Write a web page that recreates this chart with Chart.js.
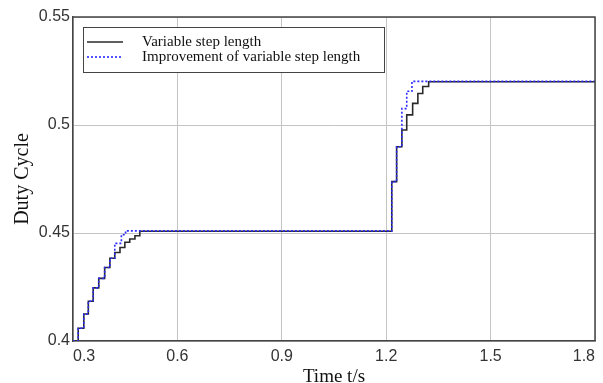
<!DOCTYPE html>
<html>
<head>
<meta charset="utf-8">
<script src="https://cdn.jsdelivr.net/npm/chart.js@4"></script>
<style>
  html, body { margin: 0; background: #fff; }
  canvas { display: block; }
</style>
</head>
<body>
<canvas id="duty" width="603" height="383"></canvas>
<script>
/* Duty cycle step response: variable step vs improved variable step. */

const seriesNames = ["Variable step length", "Improvement of variable step length"];
const xTicks = [0.3, 0.6, 0.9, 1.2, 1.5, 1.8];
const yTicks = [0.4, 0.45, 0.5, 0.55];

// variable step length (black)
const timeVar = [0.3, 0.315, 0.331, 0.344, 0.358, 0.374, 0.391, 0.406, 0.420, 0.435, 0.449, 0.463, 0.478, 0.492,
  1.216, 1.230, 1.245, 1.259, 1.276, 1.291, 1.305, 1.322, 1.8];
const dutyVar = [0.400, 0.4059, 0.4125, 0.4184, 0.4246, 0.4290, 0.4340, 0.4383, 0.4410, 0.4433, 0.4457, 0.4472, 0.4487, 0.4508,
  0.4738, 0.4899, 0.4977, 0.5047, 0.5100, 0.5146, 0.5178, 0.5200, 0.5200];

// improved variable step length (blue dotted)
const timeImp = [0.3, 0.315, 0.331, 0.344, 0.358, 0.374, 0.391, 0.406, 0.420, 0.439, 0.451,
  1.216, 1.230, 1.245, 1.259, 1.274, 1.8];
const dutyImp = [0.400, 0.4059, 0.4125, 0.4184, 0.4246, 0.4290, 0.4340, 0.4383, 0.4452, 0.4492, 0.4510,
  0.4738, 0.4899, 0.5076, 0.5156, 0.5202, 0.5202];

const toPoints = (xs, ys) => xs.map((x, i) => ({ x, y: ys[i] }));

const SANS = '"Liberation Sans", Arial, sans-serif';
const SERIF = '"Liberation Serif", "Times New Roman", serif';

/* top/right edges of the axes box */
const frame = {
  id: "frame",
  afterDatasetsDraw(chart) {
    const { ctx, chartArea: a } = chart;
    ctx.save();
    ctx.strokeStyle = "#444";
    ctx.lineWidth = 1.5;
    ctx.beginPath();
    ctx.moveTo(a.left, a.top);
    ctx.lineTo(a.right, a.top);
    ctx.lineTo(a.right, a.bottom);
    ctx.stroke();
    ctx.restore();
  },
};

/* boxed legend in the upper-left corner of the plot */
const boxLegend = {
  id: "boxLegend",
  afterDraw(chart) {
    const { ctx, chartArea: a } = chart;
    const x = a.left + 10, y = a.top + 10, w = 301, h = 45;
    ctx.save();
    ctx.fillStyle = "#fff";
    ctx.fillRect(x, y, w, h);
    ctx.strokeStyle = "#444";
    ctx.lineWidth = 1;
    ctx.strokeRect(x + 0.5, y + 0.5, w, h);
    ctx.font = "15px " + SERIF;
    ctx.textBaseline = "middle";
    chart.data.datasets.forEach((ds, i) => {
      const ly = y + 15 + i * 15;
      ctx.strokeStyle = ds.borderColor;
      ctx.lineWidth = ds.borderWidth;
      ctx.setLineDash(ds.borderDash || []);
      ctx.beginPath();
      ctx.moveTo(x + 4, ly);
      ctx.lineTo(x + 40, ly);
      ctx.stroke();
      ctx.setLineDash([]);
      ctx.fillStyle = "#111";
      ctx.fillText(ds.label, x + 59, ly);
    });
    ctx.restore();
  },
};

new Chart(document.getElementById("duty"), {
  type: "line",
  data: {
    datasets: [
      { label: seriesNames[0], data: toPoints(timeVar, dutyVar), borderColor: "#2a2a2a", borderWidth: 1.6,
        stepped: "before", pointRadius: 0, fill: false, order: 1 },
      { label: seriesNames[1], data: toPoints(timeImp, dutyImp), borderColor: "#2b2bff", borderWidth: 1.6,
        borderDash: [2, 2], stepped: "before", pointRadius: 0, fill: false, order: 0 },
    ],
  },
  options: {
    responsive: false, animation: false, devicePixelRatio: 1,
    layout: { padding: { top: 17, right: 8, left: 0, bottom: 0 } },
    plugins: { legend: { display: false }, tooltip: { enabled: false } },
    scales: {
      x: {
        type: "linear", min: 0.3, max: 1.8,
        afterBuildTicks: (s) => { s.ticks = xTicks.map((v) => ({ value: v })); },
        afterFit: (s) => { s.height = 42; },
        grid: { color: "#c4c4c4", lineWidth: 1, drawTicks: false },
        border: { color: "#444", width: 1.5 },
        ticks: { color: "#333", font: { family: SANS, size: 16 }, padding: 6, align: "inner",
          maxRotation: 0, autoSkip: false, callback: (v) => v.toFixed(1) },
        title: { display: true, text: "Time t/s", color: "#111",
          font: { family: SERIF, size: 19, lineHeight: 1 }, padding: { top: 0, bottom: -4 } },
      },
      y: {
        type: "linear", min: 0.4, max: 0.55,
        afterBuildTicks: (s) => { s.ticks = yTicks.map((v) => ({ value: v })); },
        afterFit: (s) => { s.width = 73; },
        grid: { color: "#c4c4c4", lineWidth: 1, drawTicks: false },
        border: { color: "#444", width: 1.5 },
        ticks: { color: "#333", font: { family: SANS, size: 16 }, padding: 3,
          callback: (v) => String(+v.toFixed(2)) },
        title: { display: true, text: "Duty Cycle", color: "#111",
          font: { family: SERIF, size: 20, lineHeight: 1 }, padding: { top: 13, bottom: 0 } },
      },
    },
  },
  plugins: [frame, boxLegend],
});
</script>
</body>
</html>
